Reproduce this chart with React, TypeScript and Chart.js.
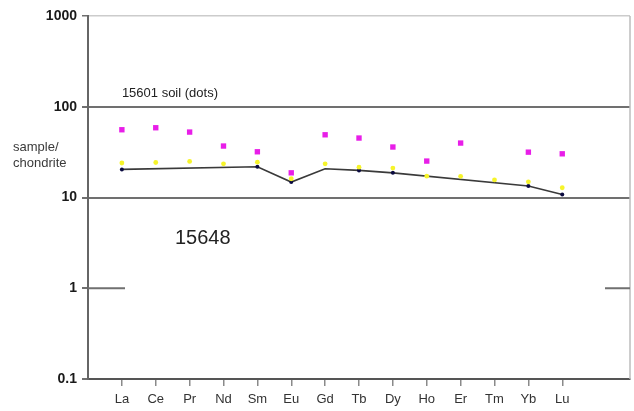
import React, { useEffect, useRef } from "react";
import { Chart, registerables } from "chart.js";

Chart.register(...registerables);

const elements = ["La", "Ce", "Pr", "Nd", "Sm", "Eu", "Gd", "Tb", "Dy", "Ho", "Er", "Tm", "Yb", "Lu"];
const soilSquares: (number | null)[] = [55.8, 58.7, 52.6, 36.9, 31.9, 18.7, 49.1, 45.2, 36.0, 25.2, 39.8, null, 31.6, 30.3];
const soilDots: (number | null)[] = [24.0, 24.3, 25.0, 23.5, 24.5, 16.1, 23.5, 21.6, 21.1, 17.2, 17.1, 15.6, 14.9, 12.8];
const sample15648: (number | null)[] = [20.4, null, null, null, 21.8, 14.8, 20.7, 19.9, 18.7, null, null, null, 13.4, 10.8];
const sampleMarkers = [true, false, false, false, true, true, false, true, true, false, false, false, true, true];
const yTicks = [0.1, 1, 10, 100, 1000];

const FONT = "'Liberation Sans', Arial, Helvetica, sans-serif";

const toPoints = (arr: (number | null)[]) => arr.map((v, i) => ({ x: i, y: v }));

const annotations = {
  id: "annotations",
  afterDatasetsDraw(chart: any) {
    const { ctx, chartArea, scales } = chart;
    const y = scales.y;
    const x = scales.x;
    ctx.save();
    // right border
    ctx.strokeStyle = "#bdbdbd";
    ctx.lineWidth = 1.5;
    ctx.beginPath();
    ctx.moveTo(chartArea.right, chartArea.top);
    ctx.lineTo(chartArea.right, chartArea.bottom);
    ctx.stroke();
    // partial gridline at 1
    const y1 = y.getPixelForValue(1);
    ctx.strokeStyle = "#707070";
    ctx.lineWidth = 2;
    ctx.beginPath();
    ctx.moveTo(chartArea.left, y1);
    ctx.lineTo(chartArea.left + 37, y1);
    ctx.moveTo(chartArea.right - 25, y1);
    ctx.lineTo(chartArea.right, y1);
    ctx.stroke();
    // texts
    ctx.fillStyle = "#222";
    ctx.textBaseline = "middle";
    ctx.textAlign = "left";
    ctx.font = `13px ${FONT}`;
    ctx.fillText("15601 soil (dots)", x.getPixelForValue(0), y.getPixelForValue(100) - 13);
    ctx.fillStyle = "#3a3a3a";
    ctx.fillText("sample/", 13, 147);
    ctx.fillText("chondrite", 13, 163);
    ctx.fillStyle = "#222";
    ctx.font = `20px ${FONT}`;
    ctx.fillText("15648", 175, 238);
    ctx.restore();
  },
};

export default function App() {
  const ref = useRef<HTMLCanvasElement>(null);
  useEffect(() => {
    document.body.style.margin = "0";
    const chart = new Chart(ref.current!, {
      type: "line",
      data: {
        datasets: [
          {
            label: "15648",
            data: toPoints(sample15648),
            borderColor: "#3a3a3a",
            borderWidth: 1.6,
            backgroundColor: "#0a0a40",
            pointBackgroundColor: "#0a0a40",
            pointBorderColor: "#0a0a40",
            pointStyle: "circle",
            pointRadius: sampleMarkers.map((m) => (m ? 2 : 0)),
            pointBorderWidth: 0,
            spanGaps: true,
            order: 3,
          },
          {
            label: "soil dots",
            data: toPoints(soilDots),
            showLine: false,
            pointStyle: "circle",
            pointRadius: 2.4,
            pointBackgroundColor: "#f6f42a",
            pointBorderColor: "#f6f42a",
            pointBorderWidth: 0,
            order: 2,
          },
          {
            label: "soil squares",
            data: toPoints(soilSquares),
            showLine: false,
            pointStyle: "rect",
            pointRadius: 3.8,
            pointBackgroundColor: "#e81ee8",
            pointBorderColor: "#e81ee8",
            pointBorderWidth: 0,
            order: 1,
          },
        ],
      },
      options: {
        animation: false,
        responsive: false,
        devicePixelRatio: 1,
        layout: { padding: { top: 16, right: 4, bottom: 0, left: 0 } },
        plugins: { legend: { display: false }, tooltip: { enabled: false } },
        scales: {
          x: {
            type: "linear",
            min: -1,
            max: 15,
            afterBuildTicks: (s: any) => {
              s.ticks = elements.map((_, i) => ({ value: i }));
            },
            afterFit: (s: any) => {
              s.height = 32;
            },
            ticks: {
              autoSkip: false,
              maxRotation: 0,
              padding: 6,
              color: "#333",
              font: { family: FONT, size: 13 },
              callback: (v: any) => elements[v] ?? "",
            },
            grid: { drawOnChartArea: false, tickLength: 7, color: "#8a8a8a", lineWidth: 1.5 },
            border: { color: "#555", width: 2 },
          },
          y: {
            type: "logarithmic",
            min: 0.1,
            max: 1000,
            afterBuildTicks: (s: any) => {
              s.ticks = yTicks.map((v) => ({ value: v }));
            },
            afterFit: (s: any) => {
              s.width = 88;
            },
            ticks: {
              padding: 5,
              color: "#1a1a1a",
              font: { family: FONT, size: 14, weight: "bold" },
              callback: (v: any) => String(v),
            },
            grid: {
              tickLength: 6,
              tickColor: "#707070",
              color: (c: any) => {
                const v = c.tick?.value;
                if (v === 1000) return "#cccccc";
                if (v === 1) return "rgba(0,0,0,0)";
                return "#707070";
              },
              lineWidth: (c: any) => (c.tick?.value === 1000 ? 1.5 : 2),
            },
            border: { color: "#666", width: 2 },
          },
        },
      },
      plugins: [annotations],
    } as any);
    return () => chart.destroy();
  }, []);
  return (
    <div style={{ width: 634, height: 411, background: "#fff" }}>
      <canvas ref={ref} width={634} height={411} style={{ display: "block" }} />
    </div>
  );
}
